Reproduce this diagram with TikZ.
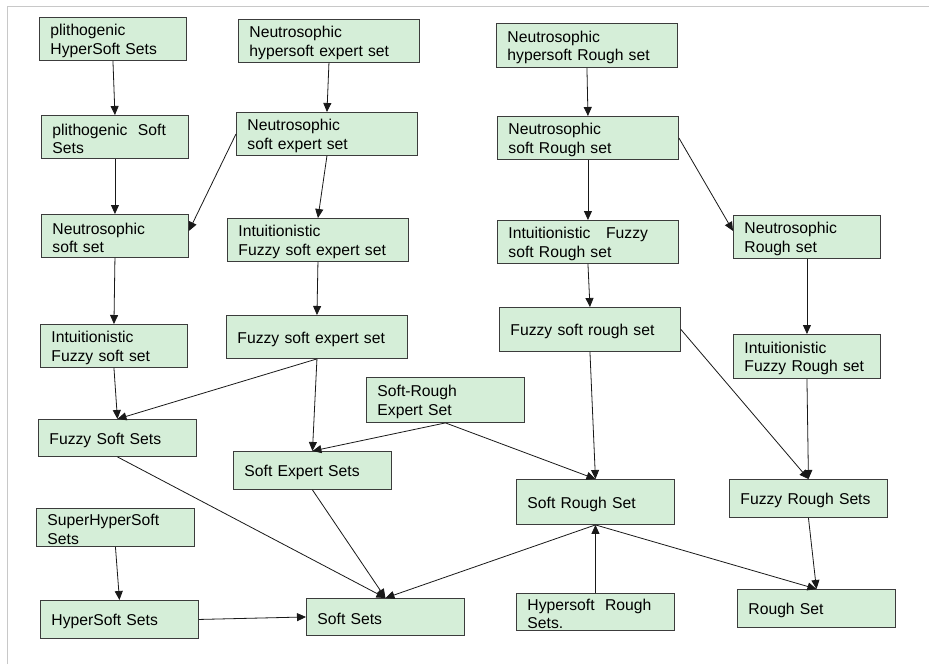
\documentclass[tikz,border=0pt]{standalone}
\usepackage{fontspec}
\setmainfont{Liberation Sans}
\usepackage{tikz}
\usetikzlibrary{arrows.meta}
\definecolor{boxfill}{RGB}{213,238,216}
\definecolor{boxline}{RGB}{60,60,60}
\definecolor{framegray}{RGB}{200,200,200}
\newcommand{\boxfont}{\fontsize{15.7}{18.7}\selectfont}

\begin{document}
\begin{tikzpicture}[
  x=1pt,y=-1pt,
  >={Triangle[length=9pt,width=8pt]},
  setbox/.style={draw=boxline,fill=boxfill,line width=0.9pt,inner xsep=11pt,inner ysep=0pt,align=left,anchor=north west,font=\boxfont,minimum height=#1,execute at begin node={\rule{0pt}{15.5pt}}},
  setbox/.default=43pt,
  narrowbox/.style={setbox=#1,text width=125pt},
  narrowbox/.default=43pt,
  midbox/.style={setbox=#1,text width=136pt},
  midbox/.default=38pt,
  widebox/.style={setbox=#1,text width=159pt},
  widebox/.default=43pt,
  link/.style={->,line width=0.8pt,black!90},
]
\useasboundingbox[fill=white] (0,0) rectangle (929,664);
\draw[framegray,line width=1pt] (7,664) -- (7,6) -- (929,6);

\node (phs) [narrowbox] at (39,17) {plithogenic\\HyperSoft Sets};
\node (nhse) [widebox] at (238,19) {Neutrosophic\\hypersoft expert set};
\node (nhsr) [widebox=44pt] at (496,23) {Neutrosophic\\hypersoft Rough set};

\node (pss) [narrowbox] at (41,115) {plithogenic\ \ Soft\\Sets};
\node (nse) [widebox] at (236,112) {Neutrosophic\\soft expert set};
\node (nsr) [widebox] at (497,116) {Neutrosophic\\soft Rough set};

\node (nss) [narrowbox] at (41,214) {Neutrosophic\\soft set};
\node (ifse) [widebox] at (227,218) {Intuitionistic\\Fuzzy soft expert set};
\node (ifsr) [widebox] at (497,220) {Intuitionistic\ \ \ Fuzzy\\soft Rough set};
\node (nr) [narrowbox] at (733,215) {Neutrosophic\\Rough set};

\node (ifs) [narrowbox] at (40,324) {Intuitionistic\\Fuzzy soft set};
\node (fse) [widebox] at (226,315) {Fuzzy soft expert set};
\node (fsr) [widebox=44pt] at (499,307) {Fuzzy soft rough set};
\node (ifr) [narrowbox=44pt] at (733,334) {Intuitionistic\\Fuzzy Rough set};

\node (sre) [midbox=45pt] at (366,377) {Soft-Rough\\Expert Set};
\node (fss) [midbox=37pt] at (38,419) {Fuzzy Soft Sets};
\node (ses) [midbox] at (233,451) {Soft Expert Sets};
\node (srs) [midbox=45pt] at (516,479) {Soft Rough Set};
\node (frs) [midbox] at (729,479) {Fuzzy Rough Sets};

\node (shs) [midbox] at (36,508) {SuperHyperSoft\\Sets};
\node (hs) [midbox] at (40,600) {HyperSoft Sets};
\node (ss) [midbox=37pt] at (306,598) {Soft Sets};
\node (hsr) [midbox=37pt] at (516,593) {Hypersoft\ \ Rough\\Sets.};
\node (rs) [midbox] at (737,589) {Rough Set};

\draw[link] (phs.south) -- (pss.north);
\draw[link] (pss.south) -- (nss.north);
\draw[link] (nhse.south) -- (nse.north);
\draw[link] (nse.west) -- ([yshift=5pt]nss.east);
\draw[link] (nse.south) -- (ifse.north);
\draw[link] (nss.south) -- (ifs.north);
\draw[link] (ifse.south) -- (fse.north);
\draw[link] (ifs.south) -- (fss.north);
\draw[link] (fse.south) -- (fss.north);
\draw[link] (fse.south) -- (ses.north);
\draw[link] (sre.south) -- (ses.north);
\draw[link] (sre.south) -- (srs.north);
\draw[link] (fsr.south) -- (srs.north);
\draw[link] (fss.south) -- (ss.north);
\draw[link] (ses.south) -- (ss.north);
\draw[link] (srs.south) -- (ss.north);
\draw[link] (hsr.north) -- (srs.south);
\draw[link] (srs.south) -- (rs.north);
\draw[link] (frs.south) -- (rs.north);
\draw[link] (hs.east) -- (ss.west);
\draw[link] (shs.south) -- (hs.north);
\draw[link] (nhsr.south) -- (nsr.north);
\draw[link] (nsr.south) -- (ifsr.north);
\draw[link] (ifsr.south) -- (fsr.north);
\draw[link] (nsr.east) -- ([yshift=6pt]nr.west);
\draw[link] (nr.south) -- (ifr.north);
\draw[link] (ifr.south) -- (frs.north);
\draw[link] (fsr.east) -- (frs.north);
\end{tikzpicture}
\end{document}
